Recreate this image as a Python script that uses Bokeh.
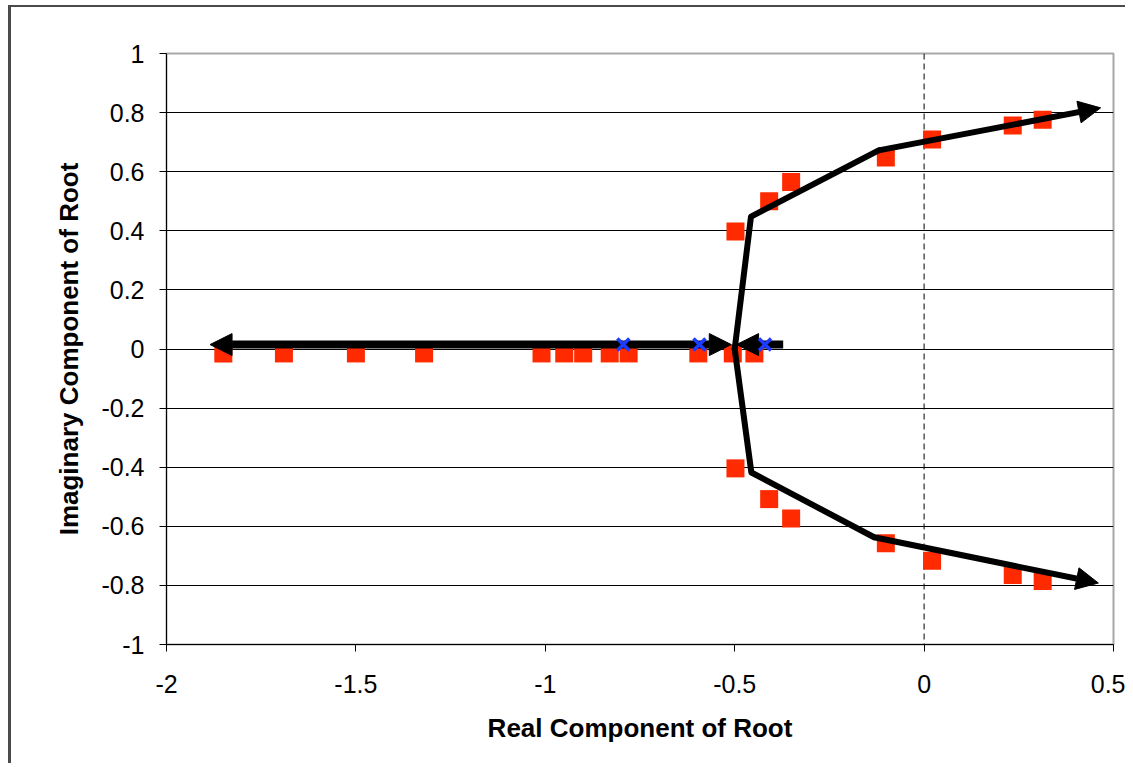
from bokeh.plotting import figure
from bokeh.models import Range1d, FixedTicker, Span, Arrow, NormalHead, ColumnDataSource
from bokeh.embed import file_html
from bokeh.resources import INLINE

# ---- data ----
real_roots_x = [-1.85, -1.69, -1.50, -1.32, -1.01, -0.95, -0.90, -0.83, -0.78, -0.596, -0.505, -0.448]
real_roots_y = [-0.015, -0.015, -0.015, -0.015, -0.015, -0.015, -0.015, -0.015, -0.015, -0.015, -0.015, -0.015]
complex_x = [-0.498, -0.409, -0.351, -0.101, 0.021, 0.234, 0.313]
upper_y = [0.398, 0.500, 0.565, 0.648, 0.709, 0.756, 0.776]
lower_y = [-0.404, -0.508, -0.574, -0.657, -0.717, -0.765, -0.785]
poles_x = [-0.794, -0.593, -0.420]
poles_y = [0.015, 0.015, 0.015]

upper_branch_x = [-0.500, -0.457, -0.120]
upper_branch_y = [0.000, 0.448, 0.672]
lower_branch_x = [-0.500, -0.456, -0.132]
lower_branch_y = [0.000, -0.418, -0.637]

branch_arrow_x0 = [-0.120, -0.132]
branch_arrow_y0 = [0.672, -0.637]
branch_arrow_x1 = [0.466, 0.460]
branch_arrow_y1 = [0.816, -0.792]

real_arrow_x0 = [-0.794, -0.794, -0.372]
real_arrow_y0 = [0.015, 0.015, 0.015]
real_arrow_x1 = [-1.885, -0.509, -0.495]
real_arrow_y1 = [0.015, 0.015, 0.015]

x_ticks = [-2, -1.5, -1, -0.5, 0, 0.5]
x_tick_labels = ["-2", "-1.5", "-1", "-0.5", "0", "0.5"]
y_ticks = [-1, -0.8, -0.6, -0.4, -0.2, 0, 0.2, 0.4, 0.6, 0.8, 1]
y_tick_labels = ["-1", "-0.8", "-0.6", "-0.4", "-0.2", "0", "0.2", "0.4", "0.6", "0.8", "1"]
grid_ticks = [-0.8, -0.6, -0.4, -0.2, 0, 0.2, 0.4, 0.6, 0.8]

FONT = "Liberation Sans"

p = figure(width=1117, height=758, output_backend="svg", toolbar_location=None,
           x_range=Range1d(-2, 0.5), y_range=Range1d(-1, 1),
           min_border_left=155, min_border_right=15, min_border_top=46, min_border_bottom=121,
           x_axis_label="Real Component of Root", y_axis_label="Imaginary Component of Root")
p.styles = {"border-left": "3px solid #4a4a4a", "border-top": "2px solid #4a4a4a",
            "margin-left": "8px", "margin-top": "5px"}

p.background_fill_color = "white"
p.border_fill_color = "white"
p.outline_line_color = "#a8a8a8"
p.outline_line_width = 2

p.xgrid.visible = False
p.ygrid.ticker = FixedTicker(ticks=grid_ticks)
p.ygrid.grid_line_color = "black"
p.ygrid.grid_line_width = 1

p.xaxis.ticker = FixedTicker(ticks=x_ticks)
p.yaxis.ticker = FixedTicker(ticks=y_ticks)
p.xaxis.major_label_overrides = dict(zip(x_ticks, x_tick_labels))
p.yaxis.major_label_overrides = dict(zip(y_ticks, y_tick_labels))

for ax in (p.xaxis, p.yaxis):
    ax.axis_line_color = "black"
    ax.axis_line_width = 1
    ax.major_tick_line_color = "black"
    ax.major_tick_out = 7
    ax.major_tick_in = 0
    ax.minor_tick_line_color = None
    ax.major_label_text_font = FONT
    ax.major_label_text_font_size = "25px"
    ax.major_label_text_color = "black"
    ax.axis_label_text_font = FONT
    ax.axis_label_text_font_size = "26px"
    ax.axis_label_text_font_style = "bold"
    ax.axis_label_text_color = "black"

p.yaxis.major_label_standoff = 15
p.yaxis.axis_label_standoff = 14
p.xaxis.major_label_standoff = 23
p.xaxis.axis_label_standoff = 17

p.add_layout(Span(location=0, dimension="height", line_color="black", line_width=1,
                  line_dash="6 4", level="underlay"))

# red computed roots
p.scatter(real_roots_x, real_roots_y, marker="square", size=18, fill_color="#ff2a00", line_color=None)
p.scatter(complex_x, upper_y, marker="square", size=18, fill_color="#ff2a00", line_color=None)
p.scatter(complex_x, lower_y, marker="square", size=18, fill_color="#ff2a00", line_color=None)

# sketched locus branches
p.line(upper_branch_x, upper_branch_y, line_color="black", line_width=6, line_cap="round", line_join="round")
p.line(lower_branch_x, lower_branch_y, line_color="black", line_width=6, line_cap="round", line_join="round")

branch_src = ColumnDataSource(dict(x0=branch_arrow_x0, y0=branch_arrow_y0, x1=branch_arrow_x1, y1=branch_arrow_y1))
p.add_layout(Arrow(source=branch_src, x_start="x0", y_start="y0", x_end="x1", y_end="y1",
                   line_color="black", line_width=6,
                   end=NormalHead(size=22, fill_color="black", line_color="black")))

real_src = ColumnDataSource(dict(x0=real_arrow_x0, y0=real_arrow_y0, x1=real_arrow_x1, y1=real_arrow_y1))
p.add_layout(Arrow(source=real_src, x_start="x0", y_start="y0", x_end="x1", y_end="y1",
                   line_color="black", line_width=8,
                   end=NormalHead(size=22, fill_color="black", line_color="black")))

# open-loop poles
p.scatter(poles_x, poles_y, marker="x", size=17, line_color="#1e3cff", line_width=3.5, level="overlay")

open("out.html", "w").write(file_html(p, INLINE))
